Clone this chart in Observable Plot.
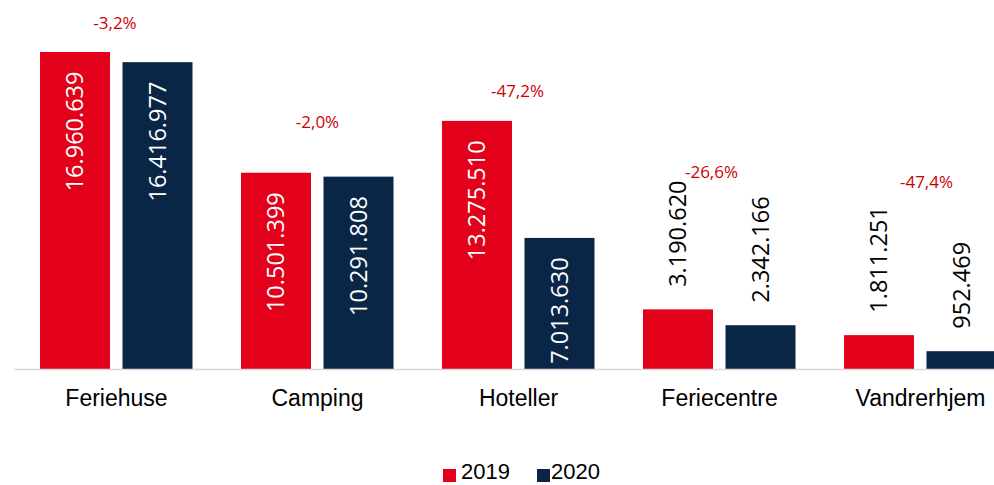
<!DOCTYPE html>
<html><head><meta charset="utf-8">
<script src="https://cdn.jsdelivr.net/npm/d3@7"></script>
<script src="https://cdn.jsdelivr.net/npm/@observablehq/plot@0.6"></script>
<style>
body{margin:0;background:#fff;width:994px;height:485px;overflow:hidden;font-family:"Liberation Sans",Arial,sans-serif}
#legend{position:relative;height:45px}
.sw{position:absolute;top:29px;width:13px;height:13px}
.lab{position:absolute;top:20px;font-size:22px;line-height:24px;color:#000}
</style>
</head><body><div id="chart"></div><div id="legend"></div>
<script>
const categories = ["Feriehuse","Camping","Hoteller","Feriecentre","Vandrerhjem"];
const years = ["2019","2020"];
const values2019 = [16960639,10501399,13275510,3190620,1811251];
const values2020 = [16416977,10291808,7013630,2342166,952469];
const colors = ["#E2001A","#0A2647"];

const fmt = v => d3.format(",")(v).replace(/,/g,".");
const pct = (a,b) => ((b-a)/a*100).toFixed(1).replace(".",",")+"%";

const rows = categories.flatMap((c,i)=>[
  {cat:c, year:years[0], value:values2019[i]},
  {cat:c, year:years[1], value:values2020[i]}
]);
const changes = categories.map((c,i)=>({cat:c, top:Math.max(values2019[i],values2020[i]), label:pct(values2019[i],values2020[i])}));

const offs = {"2019":-41, "2020":41.5};
const threshold = 5000000;
const pctLift = [29,51,30,137,153];
const pctShift = [-1.5,0,-1,-8,6];
const valFont = "'Open Sans', sans-serif";

const marks = [];
years.forEach((yr,k)=>{
  const d = rows.filter(r=>r.year===yr);
  marks.push(Plot.barY(d,{x:"cat", y:"value", fill:colors[k], dx:offs[yr]}));
});
marks.push(Plot.ruleY([0],{stroke:"#D9D9D9", strokeWidth:1.5}));
years.forEach((yr)=>{
  const d = rows.filter(r=>r.year===yr);
  marks.push(Plot.text(d.filter(r=>r.value>=threshold),{x:"cat", y:"value", text:r=>fmt(r.value), rotate:-90, textAnchor:"end", dx:offs[yr], dy:19, fill:"#fff", fontSize:23.5, fontFamily:valFont}));
  marks.push(Plot.text(d.filter(r=>r.value<threshold),{x:"cat", y:"value", text:r=>fmt(r.value), rotate:-90, textAnchor:"start", dx:offs[yr], dy:-23, fill:"#000", fontSize:23.5, fontFamily:valFont}));
});
changes.forEach((c,i)=>{
  marks.push(Plot.text([c],{x:"cat", y:"top", text:"label", dy:-pctLift[i], dx:pctShift[i], fill:"#CC0000", fontSize:17, fontFamily:valFont}));
});
marks.push(Plot.axisX({tickSize:0, tickPadding:20, fontSize:23, label:null}));

const chart = Plot.plot({
  width:994, height:440,
  marginLeft:14, marginRight:0, marginTop:0, marginBottom:71,
  style:{fontFamily:"'Liberation Sans', Arial, sans-serif", fontSize:"23px", color:"#000", background:"#fff", overflow:"hidden"},
  x:{type:"band", domain:categories, range:[14.25,1021.75], paddingInner:0.6526, paddingOuter:0.3263, align:0.5},
  y:{domain:[0, values2019[0]], range:[369,52], axis:null},
  marks
});
document.getElementById("chart").appendChild(chart);

const leg = document.getElementById("legend");
const legPos = [[443,461],[537,551]];
years.forEach((yr,k)=>{
  const sw = document.createElement("div"); sw.className="sw"; sw.style.left=legPos[k][0]+"px"; sw.style.background=colors[k];
  const lb = document.createElement("div"); lb.className="lab"; lb.style.left=legPos[k][1]+"px"; lb.textContent=yr;
  leg.appendChild(sw); leg.appendChild(lb);
});
</script>
</body></html>
